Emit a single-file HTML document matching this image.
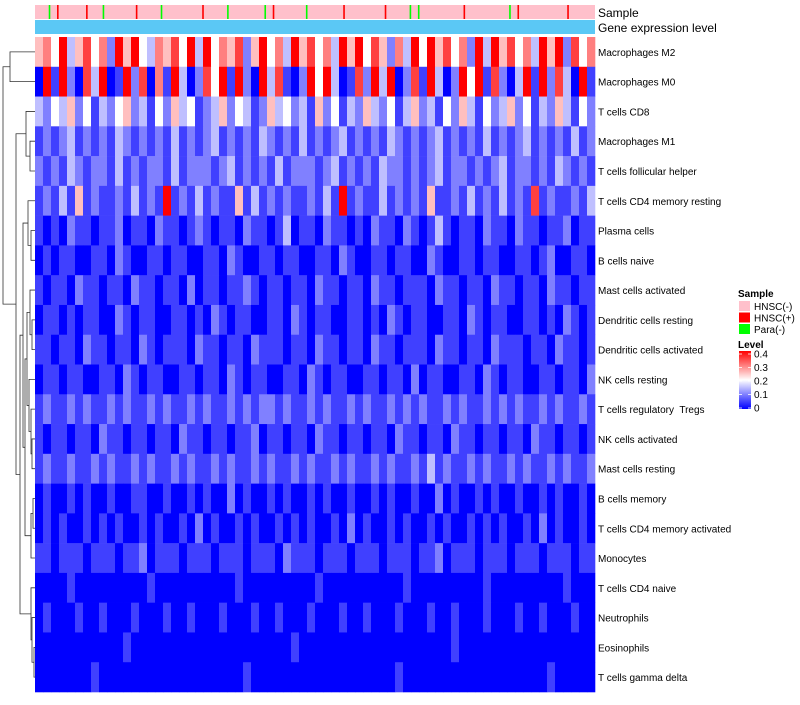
<!DOCTYPE html>
<html><head><meta charset="utf-8"><style>
body{margin:0;background:#fff;}
svg text{font-family:"Liberation Sans",sans-serif;white-space:pre;}
</style></head><body>
<svg id="chart" width="800" height="700" xmlns="http://www.w3.org/2000/svg">
<g id="dendro" stroke="#333" stroke-width="0.8" fill="none"></g>
<g id="cells"></g>
<g id="annot"></g>
<g id="labels"></g>
<g id="legend"></g>
</svg>
<script>
const rowNames = ["Macrophages M2","Macrophages M0","T cells CD8","Macrophages M1","T cells follicular helper","T cells CD4 memory resting","Plasma cells","B cells naive","Mast cells activated","Dendritic cells resting","Dendritic cells activated","NK cells resting","T cells regulatory  Tregs","NK cells activated","Mast cells resting","B cells memory","T cells CD4 memory activated","Monocytes","T cells CD4 naive","Neutrophils","Eosinophils","T cells gamma delta"];
// digit d => value d*0.05
const rowValues = [
"5648357462958436574839465725846395746385947526384957462839574638592746",
"0818207390182706193027481920837102948301728390271830294817203918273091",
"3243524132452314253412352431253423152413253241352314253142352413253142",
"1212312121321212131212312121321213121231212132121231212131212312121312",
"2121321221312122131222123121213122212312121322121231221212312212132121",
"1213151211213121812131211513121211213191211312121511213121312171211213",
"1010211011201102110121011021101301102110102110210131011021102110112011",
"0101100110210011011001102100110110011021001101100210011011001101200110",
"1011021101102110110201101121011011021101102110111021101102110110211011",
"0110101100210110011010210110011021011001101021011001102101100110102101",
"1101102110110210111021101102111011021101102110111021101102111011021101",
"0110110011021011001101102101100110210110011011020110011021011001101102",
"1211212112121121211212112121221211212112121121212112121121212112121121",
"1011011021101101102110110112011011021101101102110110211011011021101101",
"1211211212112121121211212112121121211212112121121312112121121211212112",
"0100101001001100100101002010010100101001001010010020100101001001010010",
"0101001010100101001020100101001010100102010010100101001010100102010010",
"1101110111011201110111011101110211101110111011101120111011101110111011",
"0000100000000010000000000100000000010000000000100000000010000000001000",
"0100010010001000100100010001001000100010010001000100100010001001000100",
"0000000000010000000000000000000010000000000000000000100000000000000000",
"0000000100000000000000000010000000000000000001000000000000000000100000"
];
const sampleGroups = "nnnanpnnnnnnpnnnannnnnnnpnnnnnannnnnnnnnpnnnnnannnnnnnnanpnnnnnnnannnnnnnnpnnnnnnnnnpnnnnnanannnnnnnnnnpnnnnnnnnnnanpnnnnnnnnnnnpnnnnnn";
const legendTicks = [0,0.1,0.2,0.3,0.4];
const sampleLegend = ["HNSC(-)","HNSC(+)","Para(-)"];
const sampleColors = {n:"#FFC0CB",p:"#FF0000",a:"#00FF00"};

const NS="http://www.w3.org/2000/svg";
const X0=35,X1=595,Y0=37,Y1=692;
const rowH=(Y1-Y0)/rowNames.length;
function yRow(i){return Y0+i*rowH;}
function colorOf(v){
  v=Math.max(0,Math.min(0.4,v));
  let r,g,b;
  if(v<=0.2){const t=v/0.2;r=g=Math.round(255*t);b=255;}
  else{const t=(v-0.2)/0.2;r=255;g=b=Math.round(255*(1-t));}
  return `rgb(${r},${g},${b})`;
}
function mk(tag,attrs,parent){const e=document.createElementNS(NS,tag);for(const k in attrs)e.setAttribute(k,attrs[k]);parent.appendChild(e);return e;}
const cells=document.getElementById('cells');
rowValues.forEach((s,i)=>{
  const n=s.length,w=(X1-X0)/n;
  for(let j=0;j<n;j++){
    const r=mk('rect',{x:X0+j*w,y:yRow(i),width:w+0.3,height:rowH+0.3,fill:colorOf(+s[j]*0.05)},cells);
    
    
  }
});
const annot=document.getElementById('annot');
{
  const n=sampleGroups.length,w=(X1-X0)/n;
  const bg=mk('rect',{x:X0,y:5,width:X1-X0,height:14,fill:"#FFC0CB"},annot);
  
  
  for(let j=0;j<n;j++){
    const c=sampleGroups[j]; if(c==='n')continue;
    const r=mk('rect',{x:X0+j*w+w/2-0.8,y:5,width:1.6,height:14,fill:sampleColors[c]},annot);
    
    
  }
  const ge=mk('rect',{x:X0,y:20,width:X1-X0,height:14,fill:"#5BC8F5"},annot);
  
  
  const t1=mk('text',{x:598,y:17,"font-size":12},annot);t1.textContent="Sample";
  
  
  const t2=mk('text',{x:598,y:32,"font-size":12},annot);t2.textContent="Gene expression level";
  
  
}
const labels=document.getElementById('labels');
rowNames.forEach((nm,i)=>{
  const t=mk('text',{x:598,y:yRow(i)+rowH/2+4,"font-size":10},labels);
  t.textContent=nm;
  
  
});
const dg=document.getElementById('dendro');
function cy(i){return yRow(i)+rowH/2;}
function link(ya,xa,yb,xb,xm){mk('path',{d:`M${xa},${ya}H${xm}V${yb}H${xb}`},dg);return (ya+yb)/2;}
let a=link(cy(0),35,cy(1),35,10);
let b=link(cy(3),35,cy(4),35,30); b=link(cy(2),35,b,30,26);
let c=link(cy(6),35,cy(7),35,31); c=link(cy(5),35,c,31,28);
let d=link(cy(9),35,cy(10),35,32); d=link(cy(8),35,d,32,30);
let e=link(cy(13),35,cy(14),35,32); e=link(cy(12),35,e,32,31); e=link(cy(11),35,e,31,29);
let f=link(cy(15),35,cy(16),35,33); f=link(f,33,cy(17),35,31);
let g=link(d,30,e,29,27); g=link(g,27,f,31,25);
let h=link(c,28,g,25,23);
let k=link(cy(20),35,cy(21),35,34); k=link(cy(19),35,k,34,32); k=link(cy(18),35,k,32,31);
let m=link(h,23,k,31,20);
let q=link(b,26,m,20,16);
link(a,10,q,16,3);
const lg=document.getElementById('legend');
const st=mk('text',{x:738,y:297,"font-size":10,"font-weight":"bold"},lg);st.textContent="Sample";
sampleLegend.forEach((s,i)=>{
  const r=mk('rect',{x:739,y:301+i*11.5,width:11,height:10,fill:[sampleColors.n,sampleColors.p,sampleColors.a][i]},lg);
  
  
  const t=mk('text',{x:754,y:310+i*11.5,"font-size":10},lg);t.textContent=s;
  
  
});
const lt=mk('text',{x:738,y:348,"font-size":10,"font-weight":"bold"},lg);lt.textContent="Level";
const defs=mk('defs',{},document.getElementById('chart'));
const gr=mk('linearGradient',{id:"lvl",x1:0,y1:1,x2:0,y2:0},defs);
mk('stop',{offset:"0","stop-color":"#0000FF"},gr);mk('stop',{offset:"0.5","stop-color":"#FFFFFF"},gr);mk('stop',{offset:"1","stop-color":"#FF0000"},gr);
const cb=mk('rect',{x:739,y:351,width:12,height:58,fill:"url(#lvl)"},lg);


legendTicks.forEach(v=>{
  const y=408-v/0.4*54;
  mk('line',{x1:739,x2:742,y1:y,y2:y,stroke:"#fff","stroke-width":0.8},lg);
  mk('line',{x1:748,x2:751,y1:y,y2:y,stroke:"#fff","stroke-width":0.8},lg);
  const t=mk('text',{x:754,y:y+3.5,"font-size":10},lg);t.textContent=String(v);
  
  
});
</script>
</body></html>
